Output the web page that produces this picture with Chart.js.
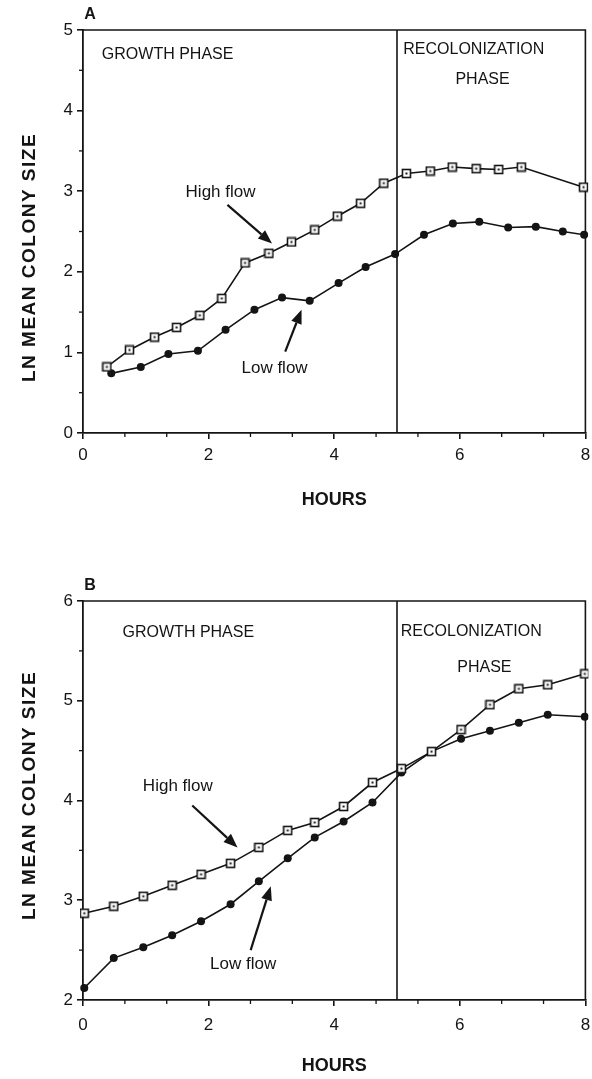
<!DOCTYPE html>
<html>
<head>
<meta charset="utf-8">
<script src="https://cdn.jsdelivr.net/npm/chart.js@4.4.0/dist/chart.umd.min.js"></script>
<style>
  html, body { margin: 0; padding: 0; background: #fff; }
  #wrap { position: relative; width: 592px; height: 1079px; }
  .panel { position: absolute; left: 0; width: 592px; }
</style>
</head>
<body>
<div id="wrap">
  <div class="panel" style="top:0;height:540px"><canvas id="chartA"></canvas></div>
  <div class="panel" style="top:540px;height:539px"><canvas id="chartB"></canvas></div>
</div>
<script>
// Panel A: colony size (ln) during growth and recolonization
const hoursHighA = [0.38, 0.74, 1.14, 1.49, 1.86, 2.21, 2.58, 2.96, 3.32, 3.69, 4.05, 4.42, 4.79, 5.15, 5.53, 5.88, 6.26, 6.62, 6.98, 7.97];
const lnHighA    = [0.82, 1.03, 1.19, 1.31, 1.46, 1.67, 2.11, 2.23, 2.37, 2.52, 2.69, 2.85, 3.10, 3.22, 3.25, 3.30, 3.28, 3.27, 3.30, 3.05];
const hoursLowA  = [0.45, 0.92, 1.36, 1.83, 2.27, 2.73, 3.17, 3.61, 4.07, 4.50, 4.97, 5.43, 5.89, 6.31, 6.77, 7.21, 7.64, 7.98];
const lnLowA     = [0.74, 0.82, 0.98, 1.02, 1.28, 1.53, 1.68, 1.64, 1.86, 2.06, 2.22, 2.46, 2.60, 2.62, 2.55, 2.56, 2.50, 2.46];

// Panel B
const hoursB  = [0.02, 0.49, 0.96, 1.42, 1.88, 2.35, 2.80, 3.26, 3.69, 4.15, 4.61, 5.07, 5.55, 6.02, 6.48, 6.94, 7.40, 7.99];
const lnHighB = [2.87, 2.94, 3.04, 3.15, 3.26, 3.37, 3.53, 3.70, 3.78, 3.94, 4.18, 4.32, 4.49, 4.71, 4.96, 5.12, 5.16, 5.27];
const lnLowB  = [2.12, 2.42, 2.53, 2.65, 2.79, 2.96, 3.19, 3.42, 3.63, 3.79, 3.98, 4.28, 4.49, 4.62, 4.70, 4.78, 4.86, 4.84];

const xTicks = [0, 2, 4, 6, 8];
const yTicksA = [0, 1, 2, 3, 4, 5];
const yTicksB = [2, 3, 4, 5, 6];
const phaseBoundary = 5;

const seriesNames = ['High flow', 'Low flow'];
const phaseNames = ['GROWTH PHASE', 'RECOLONIZATION', 'PHASE'];
const yTitle = 'LN MEAN COLONY SIZE';
const xTitle = 'HOURS';

const FONT = "'Liberation Sans', Arial, Helvetica, sans-serif";
const INK = '#141414';

const pairs = (xs, ys) => xs.map((x, i) => ({ x, y: ys[i] }));

// open square with a small dot in the middle
function squareMarker() {
  const c = document.createElement('canvas');
  c.width = 11; c.height = 11;
  const g = c.getContext('2d');
  g.fillStyle = '#fff';
  g.fillRect(1, 1, 9, 9);
  g.strokeStyle = INK;
  g.lineWidth = 1.6;
  g.strokeRect(1.5, 1.5, 8, 8);
  g.fillStyle = INK;
  g.fillRect(4.5, 4.5, 2, 2);
  return c;
}
const sq = squareMarker();

function arrow(ctx, x0, y0, x1, y1) {
  const ang = Math.atan2(y1 - y0, x1 - x0);
  const L = 14, W = 5.5;
  const bx = x1 - L * Math.cos(ang), by = y1 - L * Math.sin(ang);
  ctx.beginPath();
  ctx.moveTo(x0, y0);
  ctx.lineTo(bx, by);
  ctx.lineWidth = 2.2;
  ctx.stroke();
  ctx.beginPath();
  ctx.moveTo(x1, y1);
  ctx.lineTo(bx + W * Math.sin(ang), by - W * Math.cos(ang));
  ctx.lineTo(bx - W * Math.sin(ang), by + W * Math.cos(ang));
  ctx.closePath();
  ctx.fill();
}

const decor = {
  id: 'decor',
  beforeDatasetsDraw(chart, args, o) {
    const { ctx, chartArea: a, scales: { x, y } } = chart;
    ctx.save();
    ctx.strokeStyle = INK;
    ctx.lineWidth = 1.6;
    // frame top and right
    ctx.beginPath();
    ctx.moveTo(a.left, a.top);
    ctx.lineTo(a.right, a.top);
    ctx.lineTo(a.right, a.bottom);
    ctx.stroke();
    // boundary between phases
    const bx = x.getPixelForValue(phaseBoundary);
    ctx.beginPath();
    ctx.moveTo(bx, a.top);
    ctx.lineTo(bx, a.bottom);
    ctx.stroke();
    // minor ticks
    ctx.lineWidth = 1.3;
    for (let v = y.min + 0.5; v < y.max; v += 1) {
      const py = y.getPixelForValue(v);
      ctx.beginPath(); ctx.moveTo(a.left - 4, py); ctx.lineTo(a.left, py); ctx.stroke();
    }
    for (let k = 1; k < 12; k++) {
      if (k % 3 === 0) continue;
      const px = x.getPixelForValue(k * 2 / 3);
      ctx.beginPath(); ctx.moveTo(px, a.bottom); ctx.lineTo(px, a.bottom + 4); ctx.stroke();
    }
    ctx.restore();
  },
  afterDraw(chart, args, o) {
    const { ctx, chartArea: a, scales: { x, y } } = chart;
    ctx.save();
    ctx.fillStyle = INK;
    ctx.strokeStyle = INK;
    // panel letter
    ctx.font = 'bold 16px ' + FONT;
    ctx.textAlign = 'center';
    ctx.textBaseline = 'middle';
    ctx.fillText(o.letter, a.left + 7, a.top - 15);
    // axis titles
    ctx.font = 'bold 18px ' + FONT;
    ctx.fillText(xTitle, (a.left + a.right) / 2, a.bottom + o.xTitleGap);
    ctx.save();
    ctx.font = 'bold 19px ' + FONT;
    ctx.letterSpacing = '1.5px';
    ctx.translate(30, (a.top + a.bottom) / 2 + o.yTitleShift);
    ctx.rotate(-Math.PI / 2);
    ctx.fillText(yTitle, 0, 0);
    ctx.restore();
    // phase labels
    ctx.font = '16px ' + FONT;
    ctx.textAlign = 'left';
    for (const t of o.phases) {
      ctx.fillText(t.text, x.getPixelForValue(t.x), y.getPixelForValue(t.y));
    }
    // series labels with arrows
    ctx.font = '17px ' + FONT;
    ctx.textAlign = 'center';
    for (const n of o.notes) {
      ctx.fillText(n.text, x.getPixelForValue(n.x), y.getPixelForValue(n.y));
      arrow(ctx, x.getPixelForValue(n.from[0]), y.getPixelForValue(n.from[1]),
                 x.getPixelForValue(n.to[0]), y.getPixelForValue(n.to[1]));
    }
    ctx.restore();
  }
};

function makeChart(id, opt) {
  return new Chart(document.getElementById(id), {
    type: 'line',
    data: {
      datasets: [
        {
          label: seriesNames[0],
          data: opt.high,
          borderColor: INK,
          borderWidth: 1.6,
          pointStyle: sq,
          pointRadius: 5,
          tension: 0,
          clip: 3
        },
        {
          label: seriesNames[1],
          data: opt.low,
          borderColor: INK,
          backgroundColor: INK,
          borderWidth: 1.6,
          pointStyle: 'circle',
          pointRadius: 4,
          pointBackgroundColor: INK,
          pointBorderWidth: 0,
          tension: 0,
          clip: 3
        }
      ]
    },
    options: {
      responsive: true,
      maintainAspectRatio: false,
      animation: false,
      events: [],
      layout: { padding: { top: opt.top, right: 3, left: 0, bottom: 0 } },
      plugins: {
        legend: { display: false },
        tooltip: { enabled: false },
        decor: opt.decor
      },
      scales: {
        x: {
          type: 'linear',
          min: 0, max: 8,
          afterBuildTicks: s => { s.ticks = xTicks.map(v => ({ value: v })); },
          afterFit: s => { s.height = opt.xHeight; s.paddingLeft = 0; s.paddingRight = 0; },
          border: { display: true, color: INK, width: 1.8 },
          grid: { drawOnChartArea: false, drawTicks: true, tickLength: 6, color: INK, lineWidth: 1.6 },
          ticks: { color: INK, font: { family: FONT, size: 17 }, padding: opt.xPad, maxRotation: 0 }
        },
        y: {
          type: 'linear',
          min: opt.yTicks[0], max: opt.yTicks[opt.yTicks.length - 1],
          afterBuildTicks: s => { s.ticks = opt.yTicks.map(v => ({ value: v })); },
          afterFit: s => { s.width = 83; s.paddingTop = 0; s.paddingBottom = 0; },
          border: { display: true, color: INK, width: 1.8 },
          grid: { drawOnChartArea: false, drawTicks: true, tickLength: 6, color: INK, lineWidth: 1.6 },
          ticks: { color: INK, font: { family: FONT, size: 17 }, padding: 4 }
        }
      }
    },
    plugins: [decor]
  });
}

makeChart('chartA', {
  high: pairs(hoursHighA, lnHighA),
  low: pairs(hoursLowA, lnLowA),
  yTicks: yTicksA,
  top: 30,
  xHeight: 107,
  xPad: 6,
  decor: {
    letter: 'A',
    xTitleGap: 67,
    yTitleShift: 26,
    phases: [
      { text: phaseNames[0], x: 0.30, y: 4.69 },
      { text: phaseNames[1], x: 5.10, y: 4.76 },
      { text: phaseNames[2], x: 5.93, y: 4.38 }
    ],
    notes: [
      { text: seriesNames[0], x: 2.19, y: 2.99, from: [2.30, 2.83], to: [3.01, 2.35] },
      { text: seriesNames[1], x: 3.05, y: 0.80, from: [3.22, 1.01], to: [3.48, 1.53] }
    ]
  }
});

makeChart('chartB', {
  high: pairs(hoursB, lnHighB),
  low: pairs(hoursB, lnLowB),
  yTicks: yTicksB,
  top: 61,
  xHeight: 79,
  xPad: 9,
  decor: {
    letter: 'B',
    xTitleGap: 66,
    yTitleShift: -5,
    phases: [
      { text: phaseNames[0], x: 0.63, y: 5.68 },
      { text: phaseNames[1], x: 5.06, y: 5.69 },
      { text: phaseNames[2], x: 5.96, y: 5.33 }
    ],
    notes: [
      { text: seriesNames[0], x: 1.51, y: 4.14, from: [1.74, 3.95], to: [2.46, 3.53] },
      { text: seriesNames[1], x: 2.55, y: 2.36, from: [2.67, 2.50], to: [2.99, 3.14] }
    ]
  }
});
</script>
</body>
</html>
